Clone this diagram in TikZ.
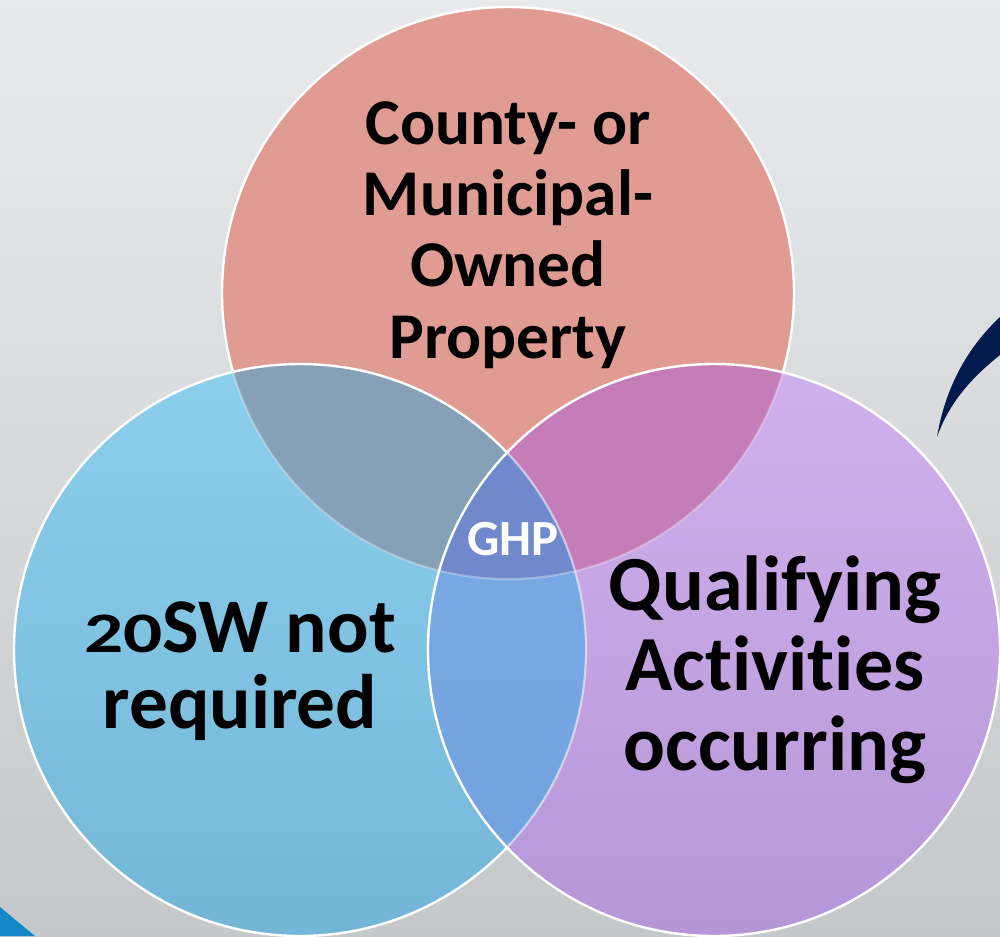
\documentclass[tikz,border=0pt]{standalone}
\usepackage{fontspec}
\setmainfont{Carlito}[Ligatures=NoCommon]
\definecolor{bgtop}{RGB}{233,234,235}
\definecolor{bgbot}{RGB}{197,200,202}
\definecolor{topc}{RGB}{224,155,147}
\definecolor{lefttop}{RGB}{140,207,236}
\definecolor{leftbot}{RGB}{116,182,216}
\definecolor{righttop}{RGB}{208,176,236}
\definecolor{rightbot}{RGB}{183,150,216}
\definecolor{tl}{RGB}{134,160,184}
\definecolor{tr}{RGB}{196,125,185}
\definecolor{lrtop}{RGB}{124,172,232}
\definecolor{lrbot}{RGB}{114,162,222}
\definecolor{allc}{RGB}{112,137,204}
\definecolor{navy}{RGB}{0,26,77}
\definecolor{accent}{RGB}{18,136,201}
\begin{document}
\begin{tikzpicture}[x=0.75pt,y=-0.75pt,
  edge/.style={draw=white,line width=1.8pt},
  lbl/.style={align=center,text=black,inner sep=0pt,anchor=base}]
\useasboundingbox (0,0) rectangle (1000,936);
\shade[top color=bgtop,bottom color=bgbot] (0,0) rectangle (1000,936);
\coordinate (ct) at (508,293);
\coordinate (cl) at (300,650);
\coordinate (cr) at (714,650);
\def\R{214.5pt}
% top circle
\fill[topc] (ct) circle[radius=\R];
\draw[edge] (ct) circle[radius=\R];
% left circle
\shade[top color=lefttop,bottom color=leftbot] (cl) circle[radius=\R];
\begin{scope}
  \clip (ct) circle[radius=\R];
  \fill[tl] (cl) circle[radius=\R];
\end{scope}
\begin{scope}
  \clip (cl) circle[radius=\R];
  \draw[white,opacity=0.3,line width=1.6pt] (ct) circle[radius=\R];
\end{scope}
\draw[edge] (cl) circle[radius=\R];
% right circle
\shade[top color=righttop,bottom color=rightbot] (cr) circle[radius=\R];
\begin{scope}
  \clip (ct) circle[radius=\R];
  \fill[tr] (cr) circle[radius=\R];
\end{scope}
\begin{scope}
  \clip (cl) circle[radius=\R];
  \shade[top color=lrtop,bottom color=lrbot] (cr) circle[radius=\R];
\end{scope}
\begin{scope}
  \clip (cl) circle[radius=\R];
  \clip (ct) circle[radius=\R];
  \fill[allc] (cr) circle[radius=\R];
\end{scope}
\begin{scope}
  \clip (cr) circle[radius=\R];
  \draw[white,opacity=0.3,line width=1.6pt] (ct) circle[radius=\R];
  \draw[white,opacity=0.55,line width=1.6pt] (cl) circle[radius=\R];
\end{scope}
\draw[edge] (cr) circle[radius=\R];
% decorations
\fill[navy] (937,437) .. controls (945,390) and (965,350) .. (1000,317) -- (1000,355) .. controls (975,375) and (950,400) .. cycle;
\fill[accent] (0,907) -- (35,936) -- (0,936) -- cycle;
% labels (base = baseline of last line)
\node[lbl,font=\fontsize{49pt}{53.3pt}\selectfont\bfseries] (ttext) at (508,358) {County- or\\Municipal-\\Owned\\Property};
\node[lbl,font=\fontsize{58pt}{57pt}\selectfont\bfseries] (ltext) at (240,728) {\scalebox{1}[0.74]{20}SW not\\required};
\node[lbl,font=\fontsize{58.5pt}{60pt}\selectfont\bfseries] (rtext) at (775,770) {Qualifying\\Activities\\occurring};
\node[lbl,font=\fontsize{38pt}{40pt}\selectfont\bfseries,text=white] (ghp) at (513,555) {GHP};
\end{tikzpicture}
\end{document}
